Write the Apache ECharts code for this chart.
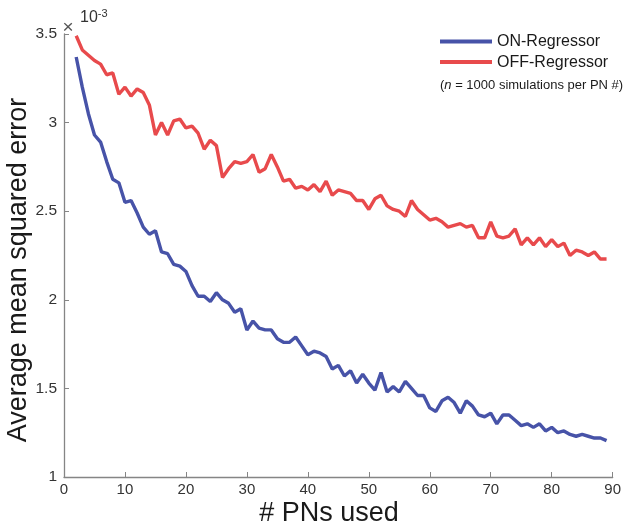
<!DOCTYPE html>
<html>
<head>
<meta charset="utf-8">
<script src="https://cdn.jsdelivr.net/npm/echarts@6/dist/echarts.min.js"></script>
<style>html,body{margin:0;padding:0;background:#fff}#c{width:624px;height:526px}</style>
</head>
<body>
<div id="c"></div>
<script>
// x = number of PNs used
const pnCounts = [2,3,4,5,6,7,8,9,10,11,12,13,14,15,16,17,18,19,20,21,22,23,24,25,26,27,28,29,30,31,32,33,34,35,36,37,38,39,40,41,42,43,44,45,46,47,48,49,50,51,52,53,54,55,56,57,58,59,60,61,62,63,64,65,66,67,68,69,70,71,72,73,74,75,76,77,78,79,80,81,82,83,84,85,86,87,88,89];
// values in units of 1e-3
const onRegressor = [3.37,3.20,3.05,2.93,2.89,2.78,2.68,2.66,2.55,2.56,2.49,2.41,2.37,2.39,2.27,2.26,2.20,2.19,2.16,2.08,2.02,2.02,1.99,2.04,2.00,1.98,1.93,1.95,1.83,1.88,1.84,1.83,1.83,1.78,1.76,1.76,1.79,1.74,1.69,1.71,1.70,1.68,1.61,1.63,1.57,1.60,1.53,1.58,1.53,1.49,1.59,1.48,1.51,1.48,1.54,1.50,1.46,1.46,1.39,1.37,1.43,1.45,1.42,1.36,1.43,1.40,1.35,1.34,1.36,1.30,1.35,1.35,1.32,1.29,1.30,1.28,1.30,1.26,1.28,1.25,1.26,1.24,1.23,1.24,1.23,1.22,1.22,1.205];
const offRegressor = [3.49,3.41,3.38,3.35,3.33,3.27,3.28,3.16,3.20,3.15,3.19,3.17,3.10,2.93,3.00,2.93,3.01,3.02,2.97,2.98,2.94,2.85,2.90,2.87,2.69,2.74,2.78,2.77,2.78,2.82,2.72,2.74,2.82,2.75,2.67,2.68,2.63,2.64,2.62,2.65,2.61,2.67,2.59,2.62,2.61,2.60,2.56,2.56,2.51,2.57,2.59,2.53,2.51,2.50,2.47,2.56,2.51,2.48,2.45,2.46,2.44,2.41,2.42,2.43,2.41,2.42,2.35,2.35,2.44,2.36,2.35,2.36,2.40,2.31,2.35,2.31,2.35,2.30,2.34,2.30,2.32,2.25,2.28,2.27,2.25,2.27,2.23,2.23];
const xTicks = [0,10,20,30,40,50,60,70,80,90];
const yTicks = [1,1.5,2,2.5,3,3.5];
const seriesNames = ['ON-Regressor','OFF-Regressor'];

const chart = echarts.init(document.getElementById('c'), null, {renderer:'canvas'});
const FONT = 'Liberation Sans, Arial, sans-serif';
const axisCol = '#858585';
chart.setOption({
  animation: false,
  grid: {left: 64, right: 8, top: 34, bottom: 49, containLabel: false},
  legend: {
    data: seriesNames, orient: 'vertical', left: 440, top: 32.5,
    itemWidth: 52, itemHeight: 4, icon: 'rect', itemGap: 2.6, padding: 0,
    textStyle: {fontFamily: FONT, fontSize: 16, color: '#1a1a1a', lineHeight: 18}
  },
  xAxis: {
    type: 'value', min: xTicks[0], max: xTicks[xTicks.length-1], interval: 10,
    axisLine: {lineStyle: {color: axisCol, width: 1.3}},
    axisTick: {inside: true, length: 5, lineStyle: {color: axisCol}},
    axisLabel: {fontFamily: FONT, fontSize: 15, color: '#333', margin: 5},
    splitLine: {show: false}
  },
  yAxis: {
    type: 'value', min: yTicks[0], max: yTicks[yTicks.length-1], interval: 0.5,
    axisLine: {show: true, lineStyle: {color: axisCol, width: 1.3}},
    axisTick: {show: true, inside: true, length: 5, lineStyle: {color: axisCol}},
    axisLabel: {fontFamily: FONT, fontSize: 15.5, color: '#333', margin: 7},
    splitLine: {show: false}
  },
  graphic: [
    {type: 'text', z: 10, x: 19, y: 270, rotation: Math.PI/2,
     style: {text: 'Average mean squared error', fontFamily: FONT, fontSize: 27, fill: '#1a1a1a',
       align: 'center', verticalAlign: 'middle'}},
    {type: 'text', z: 10, x: 329, y: 514,
     style: {text: '# PNs used', fontFamily: FONT, fontSize: 27, fill: '#1a1a1a', align: 'center', verticalAlign: 'middle'}},
    {type: 'text', z: 10, x: 68, y: 28,
     style: {text: '×', fontFamily: FONT, fontSize: 19, fill: '#555', align: 'center', verticalAlign: 'middle'}},
    {type: 'text', z: 10, x: 80, y: 27,
     style: {text: '{a|10}{b|-3}', fontFamily: FONT, fill: '#333', verticalAlign: 'bottom',
       rich: {a: {fontSize: 16, fontFamily: FONT, fill: '#333'}, b: {fontSize: 11, fontFamily: FONT, fill: '#333', verticalAlign: 'top', padding: [0,0,8,0]}}}},
    {type: 'text', z: 10, x: 440, y: 85,
     style: {text: '({i|n} = 1000 simulations per PN #)', fontFamily: FONT, fontSize: 13, fill: '#1a1a1a',
       verticalAlign: 'middle', rich: {i: {fontStyle: 'italic', fontSize: 13, fontFamily: FONT}}}}
  ],
  series: [
    {name: seriesNames[0], type: 'line', showSymbol: false, data: pnCounts.map((x,i)=>[x, onRegressor[i]]),
     lineStyle: {color: '#4753a8', width: 3.4}, itemStyle: {color: '#4753a8'}},
    {name: seriesNames[1], type: 'line', showSymbol: false, data: pnCounts.map((x,i)=>[x, offRegressor[i]]),
     lineStyle: {color: '#e84a4c', width: 3.4}, itemStyle: {color: '#e84a4c'}}
  ]
});
</script>
</body>
</html>
